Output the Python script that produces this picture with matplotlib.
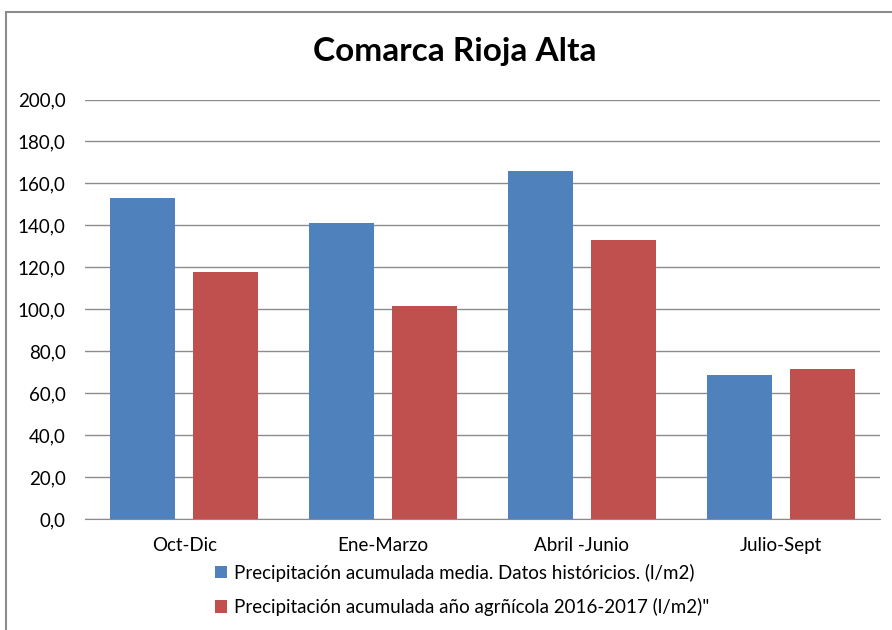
import numpy as np
import matplotlib
matplotlib.use("Agg")
import matplotlib.pyplot as plt
from matplotlib.patches import Rectangle

# datos
periodos = ["Oct-Dic", "Ene-Marzo", "Abril -Junio", "Julio-Sept"]
media_historica = [153.1, 141.3, 166.1, 68.7]
anio_2016_2017 = [117.6, 101.7, 133.2, 71.3]
serie_labels = ["Precipitación acumulada media. Datos históricios. (l/m2)",
                "Precipitación acumulada año agrñícola 2016-2017 (l/m2)\""]
yticks = np.arange(0, 201, 20)

plt.rcParams['font.family'] = ['Lato', 'DejaVu Sans']

fig = plt.figure(figsize=(8.92, 6.3), dpi=100)
ax = fig.add_axes([85 / 892, 1 - 519 / 630, 795 / 892, 419.5 / 630])

x = np.arange(len(periodos))
w = 0.327
ax.bar(x - 0.209, media_historica, w, color="#4F81BD", label=serie_labels[0], zorder=3)
ax.bar(x + 0.209, anio_2016_2017, w, color="#C0504D", label=serie_labels[1], zorder=3)

ax.set_xlim(-0.5, len(periodos) - 0.5)
ax.set_ylim(0, 200)
ax.set_yticks(yticks)
ax.set_yticklabels([f"{v:.1f}".replace(".", ",") for v in yticks], fontsize=13.5)
ax.set_xticks(x)
ax.set_xticklabels(periodos, fontsize=13.5)
ax.tick_params(axis="y", length=0, pad=14)
ax.tick_params(axis="x", length=0, pad=13)
ax.yaxis.grid(True, color="#8C8C8C", linewidth=1.0, zorder=0)
for s in ["top", "right", "left"]:
    ax.spines[s].set_visible(False)
ax.spines["bottom"].set_color("#8C8C8C")

fig.text(455 / 892, 1 - 52 / 630, "Comarca Rioja Alta", ha="center", va="center",
         fontsize=24, fontweight="bold")

fig.legend(loc="upper left", bbox_to_anchor=(207 / 892, 1 - 556 / 630), frameon=False,
           fontsize=13.5, handlelength=0.65, handleheight=0.65, handletextpad=0.4,
           labelspacing=0.87, borderaxespad=0)

# marco del grafico
fig.patches.append(Rectangle((6 / 892, -0.1), 1.2, 1 - 12 / 630 + 0.1, transform=fig.transFigure,
                             fill=False, edgecolor="#8C8C8C", linewidth=1.5))

fig.savefig("out.png", dpi=100)
